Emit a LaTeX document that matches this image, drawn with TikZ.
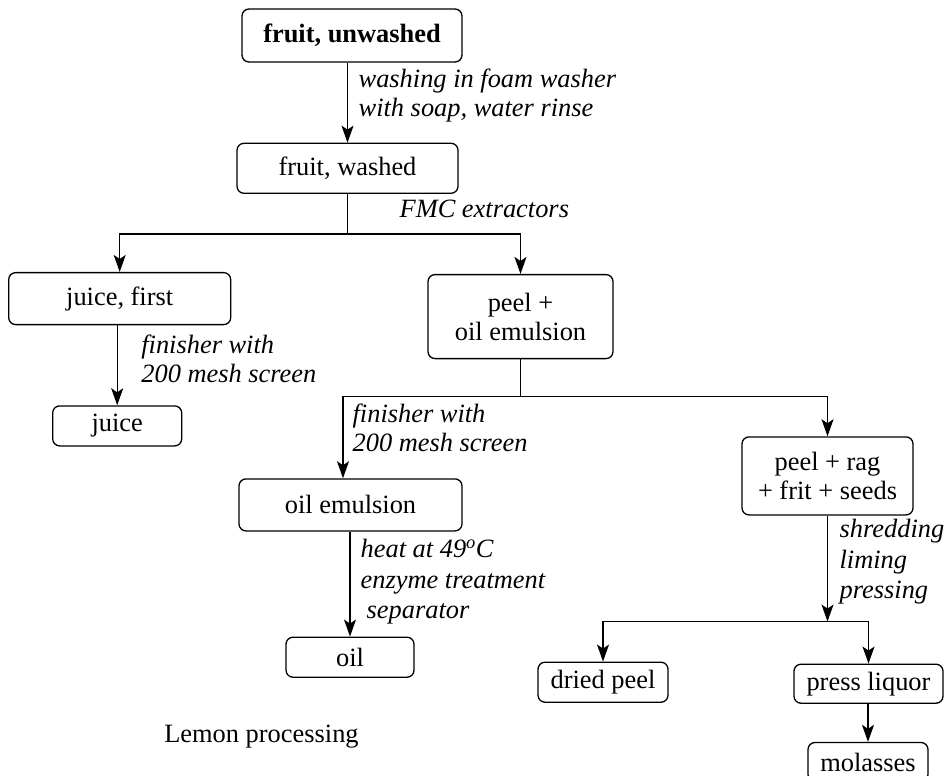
\documentclass[tikz,border=0pt]{standalone}
\usepackage{fontspec}
\setmainfont{Liberation Serif}
\usetikzlibrary{arrows.meta,positioning}

\tikzset{
    box/.style={draw, rectangle, rounded corners=7pt, line width=1.3pt, inner sep=0pt, align=center, font=\fontsize{26.4}{29}\selectfont},
    lbl/.style={inner sep=0pt, align=left, font=\fontsize{26.4}{29}\selectfont\itshape},
    lbltall/.style={lbl, font=\fontsize{26.4}{30.5}\selectfont\itshape},
    flow/.style={line width=1.3pt, -{Stealth[length=17pt,width=12pt,inset=4pt]}},
    link/.style={line width=1.3pt}
}

\begin{document}
\begin{tikzpicture}[x=1pt, y=1pt, node distance=80pt]
    \useasboundingbox (0,0) rectangle (948,-776);

    \node (fu) [box, minimum width=220pt, minimum height=53pt] at (352,-35.5) {\textbf{fruit, unwashed}};
    \node (fw) [box, below=80pt of fu, xshift=-4.5pt, minimum width=221pt, minimum height=50pt] {fruit, washed};

    \node (jf) [box, below left=78pt and 5pt of fw, minimum width=222pt, minimum height=52pt] {juice, first};
    \node (ju) [box, below=80pt of jf, xshift=-2.5pt, minimum width=129pt, minimum height=40pt] {juice};

    \node (pe) [box, below=80pt of fw, xshift=173pt, minimum width=185pt, minimum height=84pt] {peel +\\oil emulsion};
    \node (oe) [box, below=119pt of pe, xshift=-170pt, minimum width=223pt, minimum height=52pt] {oil emulsion};
    \node (oil) [box, below=105pt of oe, xshift=-0.5pt, minimum width=128pt, minimum height=40pt] {oil};

    \node (pr) [box, below=77pt of pe, xshift=307pt, minimum width=171pt, minimum height=78pt] {peel + rag\\+ frit + seeds};
    \node (dp) [box, below=146pt of pr, xshift=-224.5pt, minimum width=130pt, minimum height=40pt] {dried peel};
    \node (pl) [box, below=148pt of pr, xshift=41pt, minimum width=149pt, minimum height=39pt] {press liquor};
    \node (mo) [box, below=38pt of pl, xshift=-0.5pt, minimum width=120pt, minimum height=39pt] {molasses};

    \node (cap) [anchor=base, inner sep=0pt, font=\fontsize{26.4}{29}\selectfont] at (261.5,-742) {Lemon processing};

    \coordinate (fsplit) at ([yshift=-40pt]fw.south);
    \coordinate (psplit) at ([yshift=-37pt]pe.south);
    \coordinate (rsplit) at ([yshift=-106pt]pr.south);

    \draw[flow] (fu.south -| fw.north) -- (fw.north) node (t1) [lbl, midway, right=10.5pt, yshift=7pt] {washing in foam washer\\with soap, water rinse};
    \draw[link] (fw.south) -- (fsplit) node (t2) [lbl, midway, right=51.5pt, yshift=5pt] {FMC extractors};
    \draw[flow] (fsplit) -| (jf.north);
    \draw[flow] (fsplit) -| (pe.north);

    \draw[flow] (jf.south -| ju.north) -- (ju.north) node (t3) [lbl, midway, right=23.5pt, yshift=6.5pt] {finisher with\\200 mesh screen};

    \draw[link] (pe.south) -- (psplit);
    \draw[flow] (psplit) -| ([xshift=-7.5pt]oe.north) node (t4) [lbl, pos=0.75, right=9pt, yshift=9pt] {finisher with\\200 mesh screen};
    \draw[flow] (psplit) -| (pr.north);
    \draw[flow] (oe.south -| oil.north) -- (oil.north) node (t5) [lbltall, midway, right=10pt, yshift=2pt] {heat at 49\textsuperscript{o}C\\enzyme treatment\\\hspace*{6pt}separator};

    \draw[flow] (pr.south) -- (rsplit) node (t6) [lbltall, midway, right=11.5pt, yshift=6.5pt] {shredding\\liming\\pressing};
    \draw[flow] (rsplit) -| (dp.north);
    \draw[flow] (rsplit) -| (pl.north);
    \draw[flow] (pl.south -| mo.north) -- (mo.north);
\end{tikzpicture}
\end{document}
